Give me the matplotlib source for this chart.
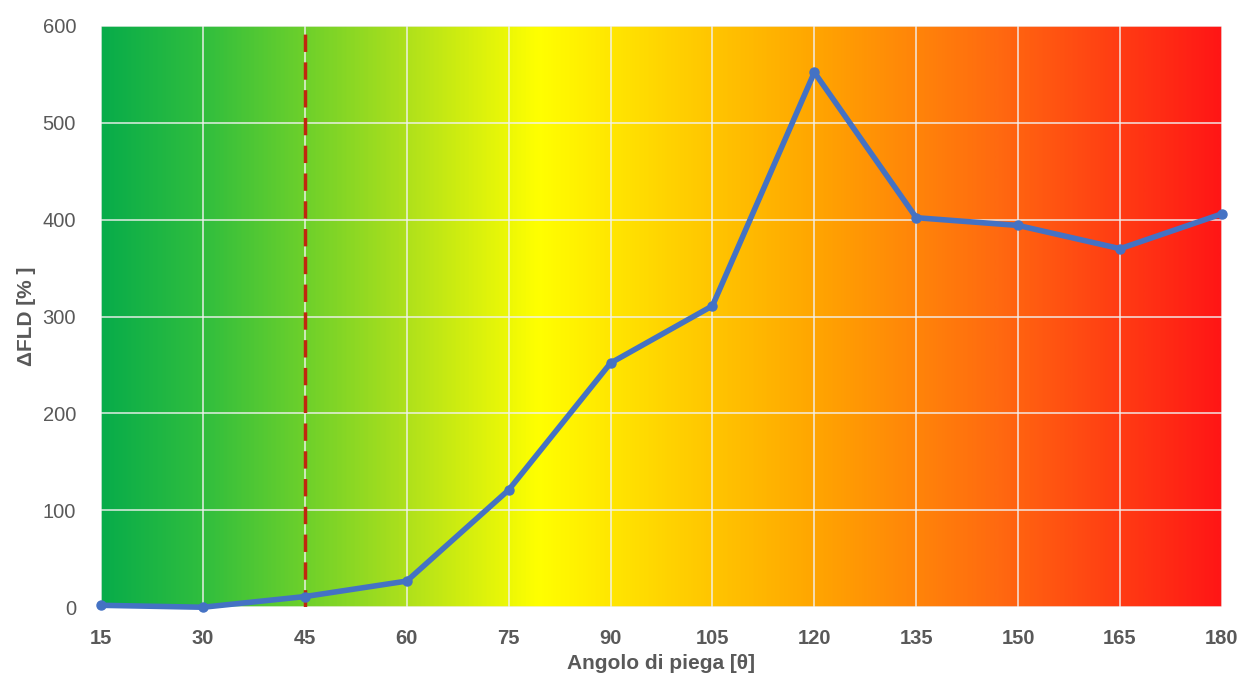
import numpy as np
import matplotlib.pyplot as plt
from matplotlib.colors import LinearSegmentedColormap

plt.rcParams['font.family'] = ['Liberation Sans', 'DejaVu Sans']

angles = [15, 30, 45, 60, 75, 90, 105, 120, 135, 150, 165, 180]
delta_fld = [2, 0, 11, 27, 121, 252, 311, 552, 402, 394, 370, 406]
limit_angle = 45

TXT = "#595959"
C_LINE = "#4472C4"
C_LIMIT = "#C0260F"

bg = LinearSegmentedColormap.from_list("bg", [
    (0.00, "#08AC4A"),
    (0.09, "#30BE3E"),
    (0.18, "#6DD02B"),
    (0.27, "#ADE01C"),
    (0.39, "#FFFF00"),
    (0.50, "#FFD500"),
    (0.63, "#FFA800"),
    (0.80, "#FF6A10"),
    (1.00, "#FF1616"),
])

fig = plt.figure(figsize=(12.52, 6.8), dpi=100)
ax = fig.add_axes([0.0807, 0.107, 0.8953, 0.855])

# horizontal colour band behind the data
grad = np.linspace(0, 1, 512).reshape(1, -1)
ax.imshow(grad, cmap=bg, aspect='auto', extent=[15, 180, 0, 600], zorder=0,
          interpolation='bilinear')

ax.set_xlim(15, 180)
ax.set_ylim(0, 600)
ax.set_xticks(angles)
ax.set_yticks(range(0, 601, 100))
ax.grid(True, color="#F2F2F2", linewidth=1.2, alpha=0.85, zorder=1)
ax.set_axisbelow(False)

ax.axvline(limit_angle, color=C_LIMIT, linestyle=(0, (5, 3)), linewidth=2.5, zorder=2.8)
ax.plot(angles, delta_fld, color=C_LINE, linewidth=4, marker='o', markersize=6.5,
        zorder=3, clip_on=False)

for s in ax.spines.values():
    s.set_visible(False)
ax.tick_params(length=0, colors=TXT, labelsize=14.5)
ax.tick_params(axis='x', pad=16)
ax.tick_params(axis='y', pad=18)
for lab in ax.get_xticklabels():
    lab.set_fontweight('bold')

ax.set_xlabel("Angolo di piega [θ]", fontsize=15, fontweight='bold', color=TXT, labelpad=4)
ax.set_ylabel("ΔFLD [% ]", fontsize=15, fontweight='bold', color=TXT, labelpad=5)

plt.savefig("out.png", dpi=100)
